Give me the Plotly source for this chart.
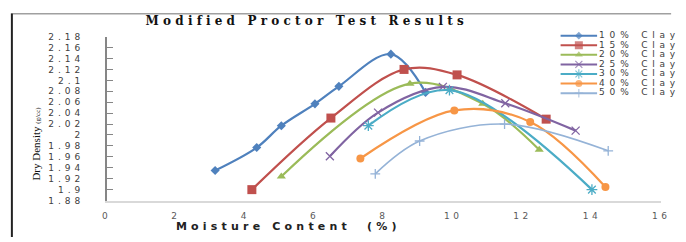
import plotly.graph_objects as go

# ---------------- data ----------------
series_names = ["10% Clay", "15% Clay", "20% Clay", "25% Clay", "30% Clay", "40% Clay", "50% Clay"]

x10 = [3.13, 4.33, 5.04, 6.01, 6.70, 8.20, 9.20]
y10 = [1.935, 1.977, 2.017, 2.057, 2.089, 2.148, 2.078]

x15 = [4.19, 6.47, 8.58, 10.11, 12.68]
y15 = [1.900, 2.031, 2.120, 2.110, 2.029]

x20 = [5.04, 8.75, 10.85, 12.48]
y20 = [1.924, 2.094, 2.057, 1.973]

x25 = [6.44, 7.83, 9.70, 11.50, 13.53]
y25 = [1.961, 2.041, 2.088, 2.058, 2.008]

x30 = [7.55, 9.89, 14.00]
y30 = [2.017, 2.082, 1.900]

x40 = [7.32, 10.03, 12.22, 14.39]
y40 = [1.957, 2.045, 2.024, 1.905]

x50 = [7.75, 9.03, 11.48, 14.47]
y50 = [1.929, 1.989, 2.020, 1.971]

xs = [x10, x15, x20, x25, x30, x40, x50]
ys = [y10, y15, y20, y25, y30, y40, y50]

y_tickvals = [1.88, 1.90, 1.92, 1.94, 1.96, 1.98, 2.00, 2.02, 2.04, 2.06, 2.08, 2.10, 2.12, 2.14, 2.16, 2.18]
y_ticktext = ["1.88", "1.9", "1.92", "1.94", "1.96", "1.98", "2", "2.02", "2.04", "2.06", "2.08", "2.1", "2.12", "2.14", "2.16", "2.18"]
x_tickvals = [0, 2, 4, 6, 8, 10, 12, 14, 16]

title_text = "Modified Proctor Test Results"
x_title = "Moisture Content  (%)"
y_title = "Dry Density"
y_unit = "(g/cc)"

# ---------------- styles / layout ----------------
colors = ["#4F81BD", "#C0504D", "#9BBB59", "#8064A2", "#4BACC6", "#F79646", "#95B3D7"]
symbols = ["diamond", "square", "triangle-up", "x-thin-open", "asterisk-open", "circle", "cross-thin-open"]
msizes = [7, 9, 8, 8, 9, 8, 7]
lwidths = [2.2, 2.2, 2.2, 2.2, 2.2, 2.2, 1.6]

W, H = 686, 242
L, R, T, B = 105, 667, 33, 204  # plot area in pixels

fig = go.Figure()

for i, name in enumerate(series_names):
    sym = symbols[i]
    mline = dict(width=1.3, color=colors[i]) if sym.endswith("open") else dict(width=0)
    fig.add_trace(go.Scatter(
        x=xs[i], y=ys[i], name=name, mode="lines+markers",
        line=dict(color=colors[i], width=lwidths[i], shape="spline", smoothing=1.0),
        marker=dict(symbol=sym, size=msizes[i], color=colors[i], line=mline),
        showlegend=False, cliponaxis=False,
    ))

# ---------------- overlay pixel-space subplot (x2/y2 cover the whole figure) ----------------
# chart frame lines
fig.add_trace(go.Scatter(x=[8, 677], y=[9, 9], xaxis="x2", yaxis="y2", mode="lines",
                         line=dict(color="#a0a0a0", width=1.5), showlegend=False, hoverinfo="skip"))
fig.add_trace(go.Scatter(x=[9, 9], y=[9, 242], xaxis="x2", yaxis="y2", mode="lines",
                         line=dict(color="#222222", width=2), showlegend=False, hoverinfo="skip"))

# compact legend
leg_x0, leg_x1, leg_text_x = 565, 602, 606
leg_y0, leg_dy = 32, 10
leg_y = []
for i, name in enumerate(series_names):
    yy = leg_y0 + i * leg_dy
    leg_y.append(yy)
    sym = symbols[i]
    mline = dict(width=1.2, color=colors[i]) if sym.endswith("open") else dict(width=0)
    fig.add_trace(go.Scatter(
        x=[leg_x0, (leg_x0 + leg_x1) / 2, leg_x1], y=[yy, yy, yy], xaxis="x2", yaxis="y2",
        mode="lines+markers", line=dict(color=colors[i], width=2),
        marker=dict(symbol=sym, size=[0, msizes[i] - 1, 0], color=colors[i], line=mline),
        showlegend=False, cliponaxis=False, hoverinfo="skip",
    ))

fig.add_trace(go.Scatter(
    x=[leg_text_x - 2] * len(series_names), y=leg_y, xaxis="x2", yaxis="y2",
    mode="text", text=series_names, textposition="middle right",
    textfont=dict(family="DejaVu Sans", size=9, color="#404040"),
    showlegend=False, cliponaxis=False, hoverinfo="skip",
))

annotations = [
    dict(text="<b>" + title_text + "</b>", xref="x2", yref="y2", x=308, y=17,
         xanchor="center", yanchor="middle", showarrow=False,
         font=dict(family="DejaVu Serif", size=12, color="#111111")),
    dict(text="<b>" + x_title + "</b>", xref="x2", yref="y2", x=289, y=231,
         xanchor="center", yanchor="middle", showarrow=False,
         font=dict(family="DejaVu Sans", size=11, color="#222222")),
    dict(text=y_title + " <span style='font-size:7px'>" + y_unit + "</span>", xref="x2", yref="y2",
         x=33, y=145, xanchor="center", yanchor="middle", showarrow=False, textangle=-90,
         font=dict(family="Liberation Serif", size=11, color="#111111")),
]

fig.update_layout(
    width=W, height=H,
    margin=dict(l=0, r=0, t=0, b=0, pad=0),
    paper_bgcolor="white", plot_bgcolor="rgba(0,0,0,0)",
    showlegend=False,
    annotations=annotations,
    xaxis=dict(domain=[L / W, R / W], range=[0, 16], tickvals=x_tickvals, showgrid=False, zeroline=False,
               showline=True, linecolor="#d9d9d9", linewidth=2, ticks="", anchor="y",
               tickfont=dict(family="DejaVu Sans", size=9, color="#595959"), ticklabelstandoff=6),
    yaxis=dict(domain=[1 - B / H, 1 - T / H], range=[1.88, 2.18], tickvals=y_tickvals, ticktext=y_ticktext,
               showgrid=False, zeroline=False, anchor="x",
               showline=True, linecolor="#868686", linewidth=1.5, ticks="inside", ticklen=6, tickcolor="#868686",
               tickfont=dict(family="DejaVu Sans", size=9, color="#404040"), ticklabelstandoff=19),
    xaxis2=dict(domain=[0, 1], range=[0, W], anchor="y2", visible=False, fixedrange=True),
    yaxis2=dict(domain=[0, 1], range=[H, 0], anchor="x2", visible=False, fixedrange=True),
)

# remove the page margin so the figure fills the window exactly, and widen the text
# a little, like the horizontally stretched reference
post = """
document.documentElement.style.margin = '0';
document.documentElement.style.overflow = 'hidden';
document.body.style.margin = '0';
document.body.style.overflow = 'hidden';
var gd = document.getElementById('{plot_id}');
function sp(sel, v) { gd.querySelectorAll(sel).forEach(function(t) { t.style.letterSpacing = v; }); }
sp('.ytick text', '4px');
sp('.xtick text', '3.5px');
sp('.textpoint text', '4.8px');
gd.querySelectorAll('.annotation-text').forEach(function(t) {
  var s = t.textContent;
  if (s.indexOf('Modified') === 0) { t.style.letterSpacing = '4.2px'; }
  else if (s.indexOf('Moisture') === 0) { t.style.letterSpacing = '4.2px'; }
});
"""

fig.write_html("out.html", post_script=post, config={"displayModeBar": False, "staticPlot": True})
